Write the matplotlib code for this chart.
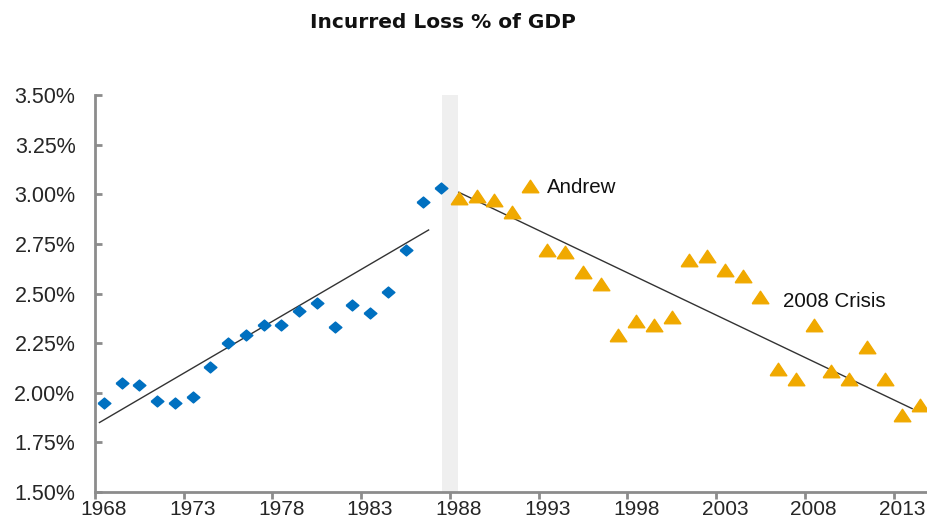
import numpy as np
import matplotlib.pyplot as plt
from matplotlib.ticker import FixedLocator, FuncFormatter

# data (values in % of GDP)
years_pre = list(range(1968, 1988))
loss_pre = [1.95, 2.05, 2.04, 1.96, 1.95, 1.98, 2.13, 2.25, 2.29, 2.34,
            2.34, 2.41, 2.45, 2.33, 2.44, 2.40, 2.51, 2.72, 2.96, 3.03]
years_post = list(range(1988, 2015))
loss_post = [2.98, 2.99, 2.97, 2.91, 3.04, 2.72, 2.71, 2.61, 2.55, 2.29,
             2.36, 2.34, 2.38, 2.67, 2.69, 2.62, 2.59, 2.48, 2.12, 2.07,
             2.34, 2.11, 2.07, 2.23, 2.07, 1.89, 1.94]

# trend line end points
trend_pre_x = [1967.75, 1986.3]
trend_pre_y = [1.85, 2.82]
trend_post_x = [1988.0, 2013.55]
trend_post_y = [3.01, 1.92]

label_years = list(range(1968, 2015, 5))
y_ticks = [1.50, 1.75, 2.00, 2.25, 2.50, 2.75, 3.00, 3.25, 3.50]

notes = [("Andrew", 1992.95, 3.035), ("2008 Crisis", 2006.3, 2.46)]

blue = "#0070C0"
orange = "#F0A900"
axis_grey = "#8C8C8C"
text_col = "#262626"

plt.rcParams['font.family'] = ['Liberation Sans', 'DejaVu Sans']

fig = plt.figure(figsize=(9.27, 5.22), dpi=100)
W, H = 927, 522
ax = fig.add_axes([95 / W, (H - 492) / H, (929 - 95) / W, (492 - 95) / H])

ax.axvspan(1987.05, 1987.95, color="#EFEFEF", lw=0, zorder=0)

diamond = [(-1, 0), (0, 0.85), (1, 0), (0, -0.85), (-1, 0)]
tri = [(-1, -0.75), (1, -0.75), (0, 0.75), (-1, -0.75)]

ax.plot(trend_pre_x, trend_pre_y, color="#333333", lw=1.0, zorder=2)
ax.plot(trend_post_x, trend_post_y, color="#333333", lw=1.0, zorder=2)
ax.plot(years_pre, loss_pre, ls="none", marker=diamond, ms=9.2,
        color=blue, mec=blue, zorder=3)
ax.plot(years_post, loss_post, ls="none", marker=tri, ms=12,
        color=orange, mec=orange, zorder=3)

for txt, x, y in notes:
    ax.text(x, y, txt, fontsize=14.8, color="#111111", va="center", ha="left")

ax.set_xlim(1967.5, 2014.5)
ax.set_ylim(1.5, 3.5)

# tick marks between categories, labels on the categories
ax.xaxis.set_major_locator(FixedLocator([y - 0.5 for y in label_years]))
ax.xaxis.set_major_formatter(FuncFormatter(lambda v, p: ""))
ax.xaxis.set_minor_locator(FixedLocator(label_years))
ax.xaxis.set_minor_formatter(FuncFormatter(lambda v, p: "%d" % round(v)))
ax.tick_params(axis="x", which="major", direction="out", length=5,
               width=2, color=axis_grey)
ax.tick_params(axis="x", which="minor", length=0, pad=6,
               labelsize=15, labelcolor=text_col)

ax.yaxis.set_major_locator(FixedLocator(y_ticks))
ax.yaxis.set_major_formatter(FuncFormatter(lambda v, p: "%.2f%%" % v))
ax.tick_params(axis="y", direction="in", length=5, width=2, color=axis_grey,
               pad=14, labelsize=15.5, labelcolor=text_col)

for s in ["top", "right"]:
    ax.spines[s].set_visible(False)
for s in ["left", "bottom"]:
    ax.spines[s].set_color(axis_grey)
    ax.spines[s].set_linewidth(2)

fig.text(443 / W, 1 - 23 / H, "Incurred Loss % of GDP", fontsize=14.5,
         fontweight="bold", family="DejaVu Sans", color="#111111",
         ha="center", va="center")

fig.savefig("out.png", dpi=100)
